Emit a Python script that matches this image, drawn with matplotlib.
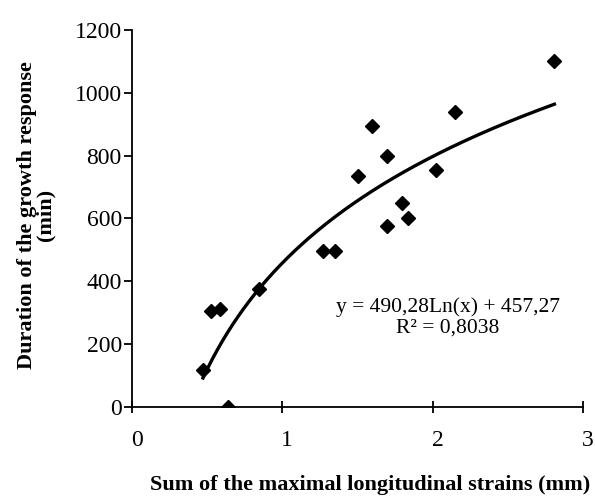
import numpy as np
import matplotlib.pyplot as plt
import matplotlib.transforms as mtransforms

# strain sum (mm) vs duration of growth response (min)
strain = [0.475, 0.53, 0.59, 0.64, 0.85, 1.27, 1.35, 1.505, 1.60, 1.70, 1.70, 1.80, 1.84, 2.02, 2.15, 2.81]
duration = [118, 305, 312, 0, 375, 495, 495, 735, 895, 800, 575, 650, 600, 755, 940, 1100]

# logarithmic trend line given on the chart
coef_a = 490.28
coef_b = 457.27
r2_text = "0,8038"

xticks = [0, 1, 2, 3]
yticks = [0, 200, 400, 600, 800, 1000, 1200]

plt.rcParams['font.family'] = ['Liberation Serif', 'DejaVu Serif']

fig = plt.figure(figsize=(5.95, 4.96), dpi=100)
ax = fig.add_axes([131.5 / 595, 89 / 496, 451.5 / 595, 377 / 496])

ax.plot(strain, duration, linestyle='none', marker='D', markersize=7.5, color='black')

xs = np.linspace(min(strain), max(strain), 200)
ax.plot(xs, coef_a * np.log(xs) + coef_b, color='black', linewidth=2.4)

ax.set_xlim(0, 3)
ax.set_ylim(0, 1200)
ax.set_xticks(xticks)
ax.set_yticks(yticks)
ax.spines['top'].set_visible(False)
ax.spines['right'].set_visible(False)
for s in ['left', 'bottom']:
    ax.spines[s].set_linewidth(1.3)
ax.tick_params(axis='y', direction='out', length=6, width=1.3, pad=1, labelsize=17)
ax.tick_params(axis='x', direction='inout', length=9, width=1.3, pad=12, labelsize=17)
offset = mtransforms.ScaledTranslation(5 / 100, 0, fig.dpi_scale_trans)
for lab in ax.get_xticklabels():
    lab.set_transform(lab.get_transform() + offset)

eq = "y = %sLn(x) + %s" % (str(coef_a).replace('.', ','), str(coef_b).replace('.', ','))
ax.text(2.10, 318, eq, ha='center', va='center', fontsize=15.5)
ax.text(2.10, 251, "R² = " + r2_text, ha='center', va='center', fontsize=15.5)

fig.text(370 / 595, 1 - 485 / 496, "Sum of the maximal longitudinal strains (mm)",
         ha='center', va='center', fontsize=16, fontweight='bold')
fig.text(36 / 595, 1 - 215 / 496, "Duration of the growth response\n(min)",
         ha='center', va='center', rotation=90, fontsize=16, fontweight='bold',
         linespacing=0.9, multialignment='center')

fig.savefig("out.png", dpi=100)
